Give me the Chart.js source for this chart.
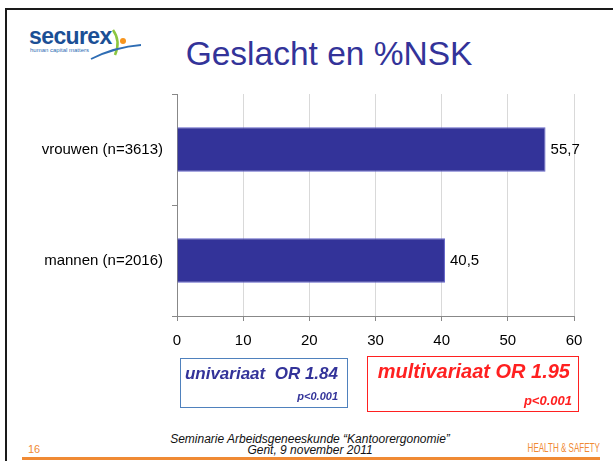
<!DOCTYPE html>
<html>
<head>
<meta charset="utf-8">
<script src="https://cdn.jsdelivr.net/npm/chart.js@4/dist/chart.umd.min.js"></script>
<style>
	body { margin: 0; background: #fff; font-family: 'Liberation Sans', Arial, sans-serif; }
	#slide { position: relative; width: 613px; height: 461px; overflow: hidden; }
	#frameTop { position: absolute; left: 5px; top: 8px; width: 608px; height: 2px; background: #1a1a1a; }
	#frameLeft { position: absolute; left: 5px; top: 8px; width: 2px; height: 453px; background: #1a1a1a; }
	#title { position: absolute; left: 0; width: 658px; top: 37px; text-align: center; font-size: 33.5px; line-height: 33px; color: #333399; }
	#chartBox { position: absolute; left: 20px; top: 76px; width: 585px; height: 284px; }
	.box { position: absolute; box-sizing: border-box; text-align: right; font-weight: bold; font-style: italic; }
	#uniBox { left: 180px; top: 358px; width: 168px; height: 50px; border: 1px solid #4f81bd; color: #333399; }
	#multiBox { left: 367px; top: 356px; width: 212px; height: 56px; border: 1.5px solid #ff2020; color: #ff2020; }
	.footer { position: absolute; font-style: italic; font-size: 12px; line-height: 11px; color: #111; text-align: center; }
	#orangeLine { position: absolute; left: 22px; top: 457px; width: 578px; height: 3px; background: #f08a34; }
</style>
</head>
<body>
<div id="slide">
	<div id="frameTop"></div>
	<div id="frameLeft"></div>

	<!-- logo -->
	<div style="position:absolute; left:29px; top:23px; font-size:23px; font-weight:bold; color:#1b4f95; letter-spacing:-0.6px;">securex</div>
	<div style="position:absolute; left:30px; top:47px; font-size:6px; color:#2e6db4;">human capital matters</div>
	<svg style="position:absolute; left:85px; top:25px;" width="60" height="40">
		<path d="M28 5 Q36 16 30 30" stroke="#8cc63f" stroke-width="2.5" fill="none"/>
		<circle cx="38" cy="16" r="3" fill="#f7941d"/>
		<path d="M6 34 Q30 22 56 20" stroke="#2e6db4" stroke-width="1.8" fill="none"/>
	</svg>

	<div id="title">Geslacht en %NSK</div>

	<div id="chartBox"><canvas id="barChart"></canvas></div>

	<div class="box" id="uniBox">
		<div style="position:absolute; right:9px; top:5px; font-size:17px; white-space:pre;">univariaat  OR 1.84</div>
		<div style="position:absolute; right:9px; top:31px; font-size:11px;">p&lt;0.001</div>
	</div>
	<div class="box" id="multiBox">
		<div style="position:absolute; right:8px; top:3px; font-size:20px;">multivariaat OR 1.95</div>
		<div style="position:absolute; right:6px; top:36px; font-size:13px;">p&lt;0.001</div>
	</div>

	<div class="footer" style="left:160px; width:300px; top:434px;">Seminarie Arbeidsgeneeskunde “Kantoorergonomie”<br>Gent, 9 november 2011</div>
	<div style="position:absolute; left:28px; top:443px; font-size:11px; color:#f08a34;">16</div>
	<div style="position:absolute; right:13px; top:441px; font-size:12px; color:#f08a34; transform:scaleX(0.67); transform-origin:right center;">HEALTH &amp; SAFETY</div>
	<div id="orangeLine"></div>
</div>

<script>
var categories = [ "vrouwen (n=3613)", "mannen (n=2016)" ];
var percentNSK = [ 55.7, 40.5 ];
var xTicks = [ 0, 10, 20, 30, 40, 50, 60 ];

var fontFamily = "'Liberation Sans', Arial, sans-serif";

// value labels right of each bar, with a decimal comma
var valueLabels = {
	id : 'valueLabels',
	afterDatasetsDraw : function(chart) {
		var ctx = chart.ctx;
		var meta = chart.getDatasetMeta(0);
		ctx.save();
		ctx.font = "15px " + fontFamily;
		ctx.fillStyle = "#000";
		ctx.textBaseline = "middle";
		meta.data.forEach(function(bar, i) {
			var txt = String(percentNSK[i]).replace('.', ',');
			ctx.fillText(txt, bar.x + 5, bar.y);
		});
		ctx.restore();
	}
};

var ctxB = document.getElementById("barChart").getContext('2d');
var myBarChart = new Chart(ctxB, {
	type : 'bar',
	data : {
		labels : categories,
		datasets : [ {
			data : percentNSK,
			backgroundColor : '#333399',
			borderColor : '#6464c8',
			borderWidth : 1,
			barPercentage : 0.8,
			categoryPercentage : 0.5
		} ]
	},
	options : {
		indexAxis : 'y',
		responsive : true,
		maintainAspectRatio : false,
		animation : false,
		layout : {
			padding : { top : 7, right : 31, bottom : 0, left : 0 }
		},
		plugins : {
			legend : { display : false },
			tooltip : { enabled : false }
		},
		scales : {
			x : {
				min : xTicks[0],
				max : xTicks[xTicks.length - 1],
				afterBuildTicks : function(scale) {
					scale.ticks = xTicks.map(function(v) { return { value : v }; });
				},
				afterFit : function(scale) { scale.height = 44; },
				grid : {
					color : '#d9d9d9',
					tickColor : '#888',
					tickLength : 5
				},
				border : { color : '#888' },
				ticks : {
					color : '#000',
					padding : 11,
					font : { size : 15, family : fontFamily }
				}
			},
			y : {
				afterFit : function(scale) { scale.width = 157; },
				grid : {
					drawOnChartArea : false,
					offset : true,
					tickColor : '#888',
					tickLength : 5
				},
				border : { color : '#888' },
				ticks : {
					color : '#000',
					padding : 9,
					font : { size : 15, family : fontFamily }
				}
			}
		}
	},
	plugins : [ valueLabels ]
});
</script>
</body>
</html>
